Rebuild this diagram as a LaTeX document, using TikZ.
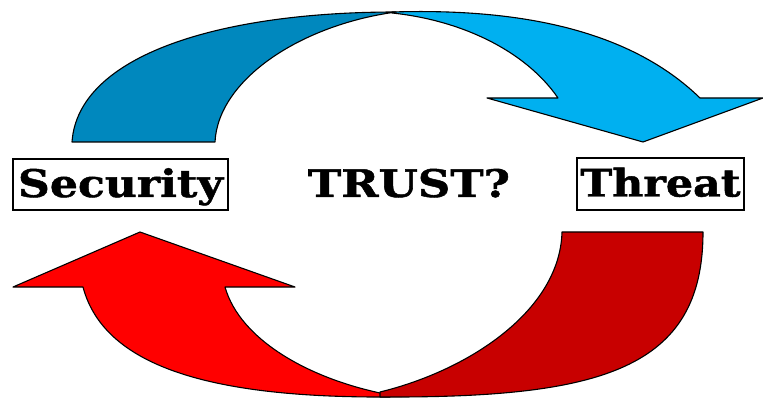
\documentclass[tikz,border=0pt]{standalone}
\usepackage{fontspec}
\usepackage{graphicx}
\newfontfamily\labelfont[FakeBold=1.2]{DejaVu Serif}
\definecolor{bluedark}{HTML}{0088BE}
\definecolor{bluelight}{HTML}{00B0F0}
\definecolor{redbright}{HTML}{FF0000}
\definecolor{reddark}{HTML}{C80000}
\begin{document}
\begin{tikzpicture}[x=1pt,y=-1pt,
  band/.style={draw=black,line width=1.1pt,line join=round},
  labelbox/.style={draw=black,line width=1.2pt,inner sep=0pt,text height=30pt,text depth=5pt}]
\useasboundingbox (0,0) rectangle (763,398);
% top arrow: light part
\fill[bluelight,band] (392,12) .. controls (520,8) and (630,30) .. (700,98)
  -- (763,98) -- (643,142) -- (487,98) -- (558,98)
  .. controls (525,50) and (460,20) .. (392,13) -- cycle;
% top arrow: dark part
\fill[bluedark,band] (72,142) .. controls (78,55) and (220,12) .. (396,12)
  .. controls (300,25) and (218,80) .. (215,142) -- cycle;
% bottom arrow: bright part
\fill[redbright,band] (83,287) -- (13,287) -- (140,232) -- (295,287) -- (225,287)
  .. controls (240,340) and (310,380) .. (390,395)
  -- (390,397) .. controls (220,398) and (105,370) .. (83,287) -- cycle;
% bottom arrow: dark part
\fill[reddark,band] (562,232) -- (703,232)
  .. controls (703,370) and (600,398) .. (380,397)
  -- (380,392) .. controls (470,370) and (560,310) .. (562,232) -- cycle;
% labels
\node[labelbox,minimum width=215pt,minimum height=51pt] (security) at (120.5,184.5)
  {\resizebox{205pt}{\height}{\labelfont\bfseries\fontsize{38}{40}\selectfont Security}};
\node[labelbox,minimum width=167pt,minimum height=52pt] (threat) at (660.5,184)
  {\resizebox{160pt}{\height}{\labelfont\bfseries\fontsize{38}{40}\selectfont Threat}};
\node[inner sep=0pt,anchor=base] (trust) at (409,197)
  {\resizebox{202pt}{\height}{\labelfont\bfseries\fontsize{38}{40}\selectfont TRUST?}};
\end{tikzpicture}
\end{document}
